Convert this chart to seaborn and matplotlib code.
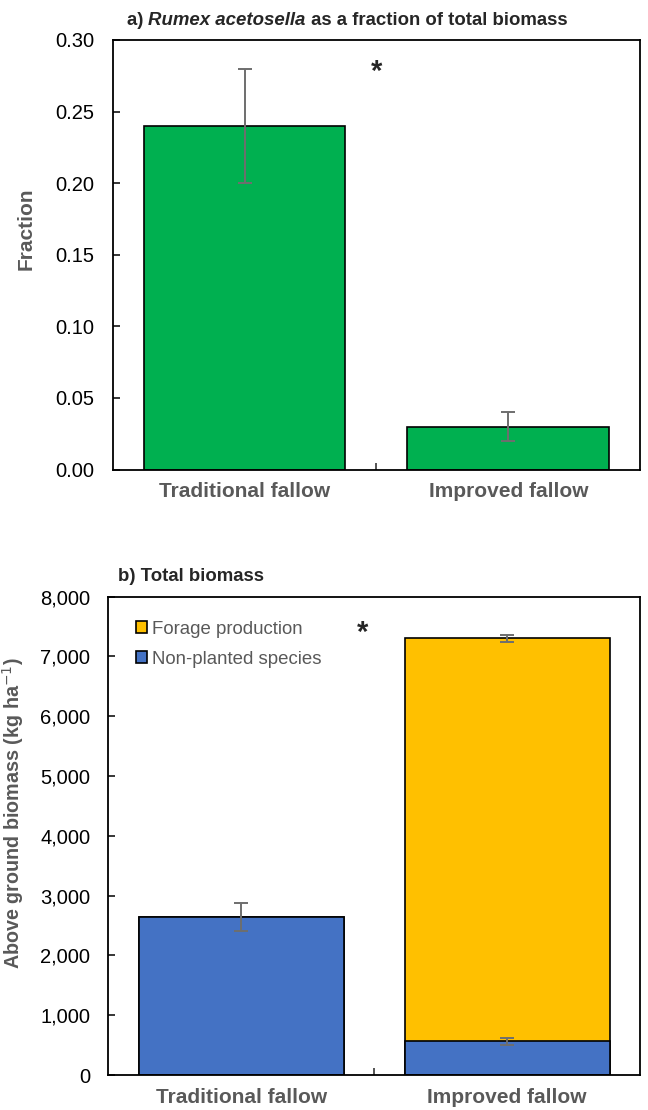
import numpy as np
import pandas as pd
import matplotlib
matplotlib.use("Agg")
import matplotlib.pyplot as plt
import seaborn as sns
from matplotlib.ticker import FuncFormatter, FixedLocator
from matplotlib.patches import Patch

categories = ["Traditional fallow", "Improved fallow"]

# a) fraction of Rumex acetosella
fraction = [0.24, 0.03]
fraction_err = [0.04, 0.01]

# b) total biomass (kg/ha)
nonplanted = [2650, 565]
nonplanted_err = [235, 60]
forage = [0, 6735]
total_err = [0, 60]

GREEN = "#00B050"
BLUE = "#4472C4"
YELLOW = "#FFC000"
GREY_TXT = "#595959"
ERR = "#6E6E6E"

sns.set_style("white")
plt.rcParams["font.family"] = ["Liberation Sans", "DejaVu Sans"]


def style_axes(ax):
    for s in ax.spines.values():
        s.set_visible(True)
        s.set_color("black")
        s.set_linewidth(1.3)
    ax.set_xlim(-0.5, 1.5)
    ax.tick_params(axis="y", direction="in", length=5, width=1.1,
                   labelsize=14.5, pad=13, colors="black", left=True)
    ax.tick_params(axis="x", which="major", length=0, pad=9, labelsize=15)
    ax.xaxis.set_minor_locator(FixedLocator([0.5]))
    ax.tick_params(axis="x", which="minor", direction="in", length=5,
                   width=1.1, bottom=True)
    for lab in ax.get_xticklabels():
        lab.set_fontweight("bold")
        lab.set_color(GREY_TXT)
    ax.set_xlabel("")


def fraction_panel(ax):
    df = pd.DataFrame({"cat": categories, "val": fraction})
    sns.barplot(ax=ax, data=df, x="cat", y="val", color=GREEN, saturation=1,
                width=0.765, edgecolor="black", linewidth=1.2, errorbar=None)
    ax.errorbar(np.arange(len(categories)), fraction, yerr=fraction_err,
                fmt="none", ecolor=ERR, elinewidth=1.4, capsize=5, capthick=1.4)
    ax.set_ylim(0, 0.30)
    ax.set_yticks(np.arange(0, 0.301, 0.05))
    ax.yaxis.set_major_formatter(FuncFormatter(lambda v, p: f"{v:.2f}"))
    style_axes(ax)
    ax.set_ylabel("Fraction", fontsize=15, fontweight="bold", color=GREY_TXT)
    ax.yaxis.set_label_coords(-0.146, 0.56)
    ax.text(0.5, 0.278, "*", ha="center", va="center", fontsize=21,
            fontweight="bold")

    # title with italic species name
    t1 = ax.text(0.027, 1.025, "a) ", transform=ax.transAxes, fontsize=13.4,
                 fontweight="bold", va="bottom")
    t2 = ax.annotate("Rumex acetosella", xy=(1, 0), xycoords=t1, fontsize=13.4,
                     fontweight="bold", style="italic", va="bottom")
    ax.annotate(" as a fraction of total biomass", xy=(1, 0), xycoords=t2,
                fontsize=13.4, fontweight="bold", va="bottom")


def biomass_panel(ax):
    totals = [n + f for n, f in zip(nonplanted, forage)]
    df = pd.DataFrame({"cat": categories, "total": totals, "non": nonplanted})
    sns.barplot(ax=ax, data=df, x="cat", y="total", color=YELLOW, saturation=1,
                width=0.77, edgecolor="black", linewidth=1.2, errorbar=None)
    sns.barplot(ax=ax, data=df, x="cat", y="non", color=BLUE, saturation=1,
                width=0.77, edgecolor="black", linewidth=1.2, errorbar=None)
    ax.errorbar(np.arange(len(categories)), nonplanted, yerr=nonplanted_err,
                fmt="none", ecolor=ERR, elinewidth=1.4, capsize=5, capthick=1.4)
    ax.errorbar([1], [totals[1]], yerr=[total_err[1]],
                fmt="none", ecolor=ERR, elinewidth=1.4, capsize=5, capthick=1.4)
    ax.set_ylim(0, 8000)
    ax.set_yticks(np.arange(0, 8001, 1000))
    ax.yaxis.set_major_formatter(FuncFormatter(lambda v, p: f"{v:,.0f}"))
    style_axes(ax)
    ax.set_ylabel("Above ground biomass (kg ha$^{-1}$)", fontsize=14.2,
                  fontweight="bold", color=GREY_TXT)
    ax.yaxis.set_label_coords(-0.154, 0.548)
    ax.text(0.455, 7390, "*", ha="center", va="center", fontsize=21,
            fontweight="bold")
    ax.text(0.019, 1.025, "b) Total biomass", transform=ax.transAxes,
            fontsize=13.4, fontweight="bold", va="bottom")

    handles = [Patch(facecolor=YELLOW, edgecolor="black", linewidth=1.2),
               Patch(facecolor=BLUE, edgecolor="black", linewidth=1.2)]
    leg = ax.legend(handles, ["Forage production", "Non-planted species"],
                    loc="upper left", bbox_to_anchor=(0.02, 0.985),
                    frameon=False, fontsize=13.4, handlelength=0.6,
                    handleheight=0.6, handletextpad=0.3, labelspacing=0.72)
    for t in leg.get_texts():
        t.set_color(GREY_TXT)


def main():
    fig = plt.figure(figsize=(6.48, 11.10), dpi=100)
    ax1 = fig.add_axes([0.174, 0.577, 0.814, 0.387])
    ax2 = fig.add_axes([0.167, 0.0315, 0.821, 0.431])
    fraction_panel(ax1)
    biomass_panel(ax2)
    fig.savefig("out.png", dpi=100)


if __name__ == "__main__":
    main()
